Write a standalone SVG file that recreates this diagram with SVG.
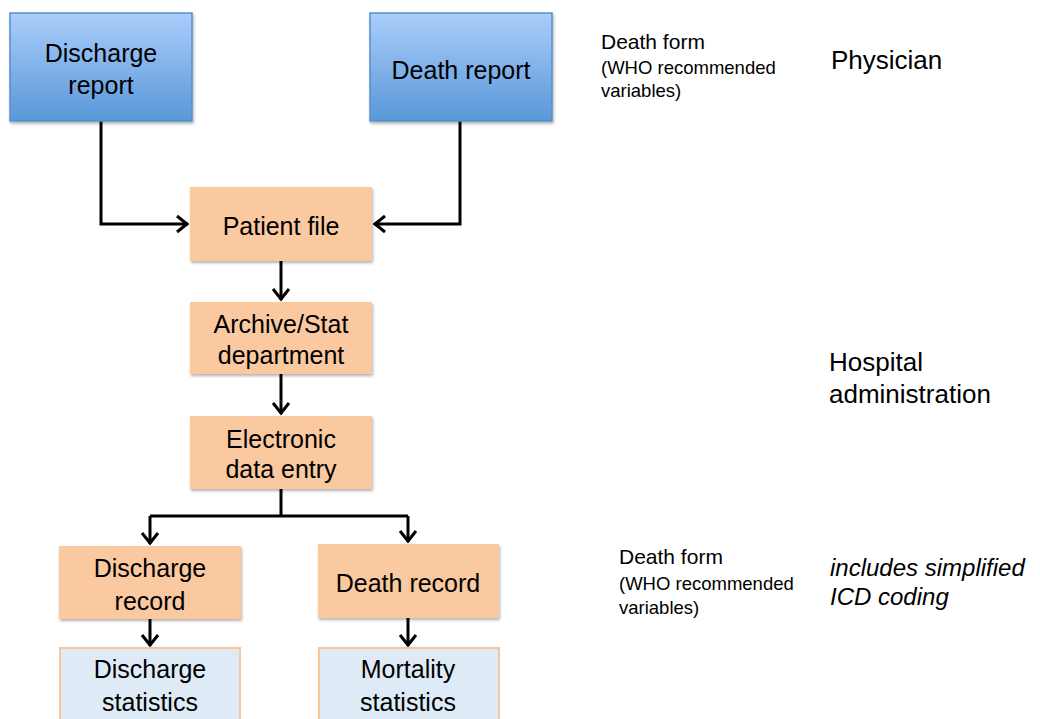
<svg xmlns="http://www.w3.org/2000/svg" width="1040" height="719" viewBox="0 0 1040 719">
<style>
  .t{font-family:"Liberation Sans",Arial,sans-serif;fill:#000;}
  .box{font-size:25px;text-anchor:middle;}
  .blue{fill:url(#blueGrad);stroke:#5a8ecb;stroke-width:1.5;}
  .orange{fill:#fac9a0;stroke:none;}
  .stat{fill:#deebf6;stroke:#f7c69c;stroke-width:2;}
  .conn{fill:none;stroke:#000;stroke-width:3;}
  .f1{font-size:21px;}
  .f2{font-size:18.5px;}
  .big{font-size:26px;}
</style>
<defs>
  <linearGradient id="blueGrad" x1="0" y1="0" x2="0" y2="1">
    <stop offset="0" stop-color="#abcdfb"/>
    <stop offset="1" stop-color="#5898d8"/>
  </linearGradient>
  <filter id="sh" x="-10%" y="-10%" width="130%" height="130%">
    <feDropShadow dx="1" dy="2" stdDeviation="1.5" flood-color="#000" flood-opacity="0.3"/>
  </filter>
  <marker id="arr" markerUnits="userSpaceOnUse" markerWidth="16" markerHeight="20" refX="13" refY="10" orient="auto">
    <path d="M2,2 L12,10 L2,18" fill="none" stroke="#000" stroke-width="3"/>
  </marker>
</defs>

<g id="connectors">
  <polyline class="conn" points="101,121 101,224 188,224" marker-end="url(#arr)"/>
  <polyline class="conn" points="460,121 460,224 374,224" marker-end="url(#arr)"/>
  <line class="conn" x1="281" y1="261" x2="281" y2="300" marker-end="url(#arr)"/>
  <line class="conn" x1="281" y1="374" x2="281" y2="414" marker-end="url(#arr)"/>
  <polyline class="conn" points="281,489 281,516"/>
  <polyline class="conn" points="150,516 408,516"/>
  <line class="conn" x1="150" y1="516" x2="150" y2="544" marker-end="url(#arr)"/>
  <line class="conn" x1="408" y1="516" x2="408" y2="542" marker-end="url(#arr)"/>
  <line class="conn" x1="150" y1="619" x2="150" y2="646" marker-end="url(#arr)"/>
  <line class="conn" x1="408" y1="618" x2="408" y2="646" marker-end="url(#arr)"/>
</g>

<g id="discharge-report">
  <rect class="blue" x="10" y="13" width="182" height="108" filter="url(#sh)"/>
  <text class="t box" x="101" y="62">Discharge</text>
  <text class="t box" x="101" y="94">report</text>
</g>
<g id="death-report">
  <rect class="blue" x="370" y="13" width="182" height="108" filter="url(#sh)"/>
  <text class="t box" x="461" y="79">Death report</text>
</g>
<g id="patient-file">
  <rect class="orange" x="190" y="187" width="182" height="74" filter="url(#sh)"/>
  <text class="t box" x="281" y="235">Patient file</text>
</g>
<g id="archive">
  <rect class="orange" x="190" y="302" width="182" height="72" filter="url(#sh)"/>
  <text class="t box" x="281" y="333">Archive/Stat</text>
  <text class="t box" x="281" y="364">department</text>
</g>
<g id="electronic">
  <rect class="orange" x="190" y="416" width="182" height="73" filter="url(#sh)"/>
  <text class="t box" x="281" y="448">Electronic</text>
  <text class="t box" x="281" y="478">data entry</text>
</g>
<g id="discharge-record">
  <rect class="orange" x="59" y="546" width="182" height="73" filter="url(#sh)"/>
  <text class="t box" x="150" y="577">Discharge</text>
  <text class="t box" x="150" y="610">record</text>
</g>
<g id="death-record">
  <rect class="orange" x="318" y="544" width="181" height="74" filter="url(#sh)"/>
  <text class="t box" x="408" y="592">Death record</text>
</g>
<g id="discharge-statistics">
  <rect class="stat" x="60" y="648" width="180" height="80"/>
  <text class="t box" x="150" y="678">Discharge</text>
  <text class="t box" x="150" y="711">statistics</text>
</g>
<g id="mortality-statistics">
  <rect class="stat" x="319" y="648" width="180" height="80"/>
  <text class="t box" x="408" y="678">Mortality</text>
  <text class="t box" x="408" y="711">statistics</text>
</g>

<g id="annotations">
  <text class="t f1" x="601" y="49">Death form</text>
  <text class="t f2" x="601" y="74">(WHO recommended</text>
  <text class="t f2" x="601" y="97">variables)</text>
  <text class="t big" x="831" y="69">Physician</text>
  <text class="t big" x="829" y="371">Hospital</text>
  <text class="t big" x="829" y="403">administration</text>
  <text class="t f1" x="619" y="564">Death form</text>
  <text class="t f2" x="619" y="590">(WHO recommended</text>
  <text class="t f2" x="619" y="614">variables)</text>
  <text class="t" x="830" y="576" font-size="24" font-style="italic">includes simplified</text>
  <text class="t" x="830" y="605" font-size="24" font-style="italic">ICD coding</text>
</g>
</svg>
